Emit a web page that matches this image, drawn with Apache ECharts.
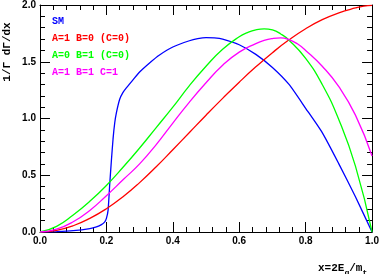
<!DOCTYPE html>
<html>
<head>
<meta charset="utf-8">
<script src="https://cdn.jsdelivr.net/npm/echarts@6/dist/echarts.min.js"></script>
<style>
html,body{margin:0;padding:0;background:#fff;}
#c{width:382px;height:274px;}
</style>
</head>
<body>
<div id="c"></div>
<script>
// ---- data ----
var smX = [0, 0.05, 0.1, 0.15, 0.17, 0.185, 0.195, 0.2, 0.205, 0.21, 0.215, 0.22, 0.225, 0.23, 0.24, 0.25, 0.26, 0.28, 0.3, 0.33, 0.36, 0.4, 0.45, 0.475, 0.5, 0.525, 0.55, 0.6, 0.65, 0.7, 0.75, 0.8, 0.85, 0.9, 0.95, 1.0];
var smY = [0, 0.004, 0.012, 0.03, 0.045, 0.065, 0.09, 0.12, 0.19, 0.42, 0.63, 0.82, 0.96, 1.05, 1.17, 1.23, 1.27, 1.34, 1.41, 1.49, 1.56, 1.63, 1.685, 1.703, 1.712, 1.71, 1.70, 1.65, 1.565, 1.45, 1.3, 1.09, 0.875, 0.6, 0.31, 0];

var redX   = [0, 0.05, 0.1, 0.15, 0.2, 0.25, 0.3, 0.35, 0.4, 0.45, 0.5, 0.55, 0.6, 0.65, 0.7, 0.75, 0.8, 0.85, 0.9, 0.95, 0.975, 1.0];
var redY   = [0, 0.015, 0.055, 0.12, 0.205, 0.31, 0.435, 0.575, 0.725, 0.877, 1.029, 1.177, 1.32, 1.455, 1.58, 1.693, 1.791, 1.871, 1.931, 1.974, 1.99, 1.997];

var greenX = [0, 0.05, 0.1, 0.15, 0.2, 0.25, 0.3, 0.35, 0.4, 0.45, 0.5, 0.55, 0.6, 0.625, 0.65, 0.675, 0.7, 0.725, 0.75, 0.8, 0.85, 0.9, 0.95, 1.0];
var greenY = [0, 0.05, 0.15, 0.27, 0.41, 0.57, 0.74, 0.92, 1.1, 1.29, 1.46, 1.61, 1.72, 1.757, 1.781, 1.79, 1.78, 1.745, 1.69, 1.53, 1.3, 0.99, 0.58, 0];

var pinkX  = [0, 0.05, 0.1, 0.15, 0.2, 0.25, 0.3, 0.35, 0.4, 0.45, 0.5, 0.55, 0.6, 0.65, 0.675, 0.7, 0.725, 0.75, 0.775, 0.8, 0.85, 0.9, 0.95, 1.0];
var pinkY  = [0, 0.025, 0.09, 0.19, 0.32, 0.46, 0.6, 0.77, 0.96, 1.145, 1.315, 1.47, 1.585, 1.66, 1.688, 1.704, 1.71, 1.695, 1.658, 1.6, 1.46, 1.28, 1.03, 0.67];

var xTicks = [0, 0.2, 0.4, 0.6, 0.8, 1.0];
var yTicks = [0, 0.5, 1.0, 1.5, 2.0];

var legendLabels = ['SM', 'A=1 B=0 (C=0)', 'A=0 B=1 (C=0)', 'A=1 B=1 C=1'];
var colors = ['#0000ff', '#ff0000', '#00ff00', '#ff00ff'];

function pairs(xs, ys) { return xs.map(function (x, i) { return [x, ys[i]]; }); }

var chart = echarts.init(document.getElementById('c'), null, {renderer: 'canvas'});

var labelFont = {fontFamily: 'Liberation Sans', fontSize: 10, fontWeight: 'bold', color: '#000'};

function axisCommon(show, pos) {
  return {
    type: 'value',
    position: pos,
    axisLine: {show: true, onZero: false, lineStyle: {color: '#000', width: 1}},
    axisTick: {show: true, inside: true, length: 10, lineStyle: {color: '#000', width: 1}},
    minorTick: {show: true, splitNumber: 5, length: 5, lineStyle: {color: '#000', width: 1}},
    splitLine: {show: false},
    minorSplitLine: {show: false},
    axisLabel: Object.assign({show: show, margin: 4, formatter: function (v) { return v.toFixed(1); }}, labelFont)
  };
}

var xa = axisCommon(true, 'bottom'); xa.min = xTicks[0]; xa.max = xTicks[xTicks.length - 1]; xa.interval = 0.2;
var xb = axisCommon(false, 'top'); xb.min = 0; xb.max = 1; xb.interval = 0.2;
var ya = axisCommon(true, 'left'); ya.min = yTicks[0]; ya.max = yTicks[yTicks.length - 1]; ya.interval = 0.5;
var yb = axisCommon(false, 'right'); yb.min = 0; yb.max = 2; yb.interval = 0.5;

var seriesData = [pairs(smX, smY), pairs(redX, redY), pairs(greenX, greenY), pairs(pinkX, pinkY)];

var series = seriesData.map(function (d, i) {
  return {
    type: 'line',
    name: legendLabels[i],
    data: d,
    showSymbol: false,
    smooth: i === 0 ? 0.2 : 0.5,
    lineStyle: {color: colors[i], width: 1.3},
    itemStyle: {color: colors[i]},
    animation: false,
    z: 3
  };
});

var legendTexts = legendLabels.map(function (t, i) {
  return {
    type: 'text',
    left: 52,
    top: [16, 33, 50, 67][i],
    style: {text: t, fill: colors[i], font: 'bold 10px "Liberation Mono"'}
  };
});

chart.setOption({
  animation: false,
  backgroundColor: '#fff',
  grid: {left: 40, right: 8, top: 4, bottom: 42, containLabel: false},
  xAxis: [xa, xb],
  yAxis: [ya, yb],
  series: series,
  graphic: legendTexts.concat([
    {
      type: 'text',
      x: 7, y: 52,
      rotation: Math.PI / 2,
      style: {text: '1/\u0393 d\u0393/dx', fill: '#000', font: 'bold 11px "Liberation Mono"', align: 'center', verticalAlign: 'middle'}
    },
    {
      type: 'text',
      left: 318, top: 263,
      style: {
        text: '{m|x=2E}{s|g}{m|/m}{s|t}',
        rich: {
          m: {font: 'bold 11px "Liberation Mono"', fill: '#000', verticalAlign: 'bottom'},
          s: {font: 'bold 8px "Liberation Mono"', fill: '#000', verticalAlign: 'bottom', padding: [0, 0, -3, 0]}
        }
      }
    }
  ])
});
</script>
</body>
</html>
